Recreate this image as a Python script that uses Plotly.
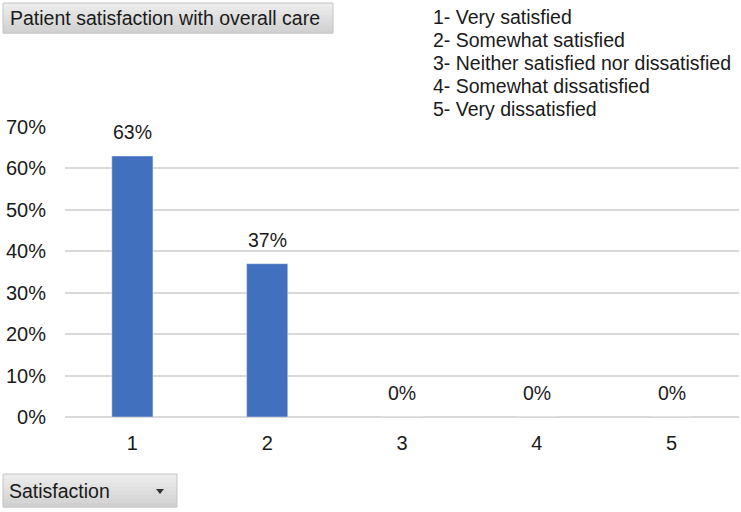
import plotly.graph_objects as go

categories = ["1", "2", "3", "4", "5"]
values = [0.63, 0.37, 0.0, 0.0, 0.0]
value_labels = ["63%", "37%", "0%", "0%", "0%"]
y_ticks = [0, 0.1, 0.2, 0.3, 0.4, 0.5, 0.6, 0.7]
y_tick_labels = ["0%", "10%", "20%", "30%", "40%", "50%", "60%", "70%"]
legend_lines = ["1- Very satisfied", "2- Somewhat satisfied",
                "3- Neither satisfied nor dissatisfied",
                "4- Somewhat dissatisfied", "5- Very dissatisfied"]
chart_title = "Patient satisfaction with overall care"
axis_button = "Satisfaction"

W, H = 741, 512
L, R, T, B = 65, 2, 127, 95
PW, PH = W - L - R, H - T - B

def px(x):
    return (x - L) / PW

def py(y):
    return (H - B - y) / PH

FONT = "Liberation Sans, Arial, sans-serif"
TXT = 19.5
TICK = 20

fig = go.Figure()
fig.add_trace(go.Bar(x=categories, y=values, marker_color="#4170BE",
                     width=0.305, hoverinfo="skip"))

annotations = []
for i, (v, t) in enumerate(zip(values, value_labels)):
    annotations.append(dict(x=i, y=v, xref="x", yref="y", text=t, showarrow=False,
                            yshift=24, font=dict(size=TXT, color="#1a1a1a")))
for i, line in enumerate(legend_lines):
    annotations.append(dict(x=px(431), y=py(17 + i * 23), xref="paper", yref="paper",
                            text=line, showarrow=False, xanchor="left", yanchor="middle",
                            font=dict(size=TXT, color="#1a1a1a")))
annotations.append(dict(x=px(8), y=py(18), xref="paper", yref="paper", text=chart_title,
                        showarrow=False, xanchor="left", yanchor="middle",
                        font=dict(size=TXT, color="#1a1a1a")))
annotations.append(dict(x=px(7), y=py(491), xref="paper", yref="paper", text=axis_button,
                        showarrow=False, xanchor="left", yanchor="middle",
                        font=dict(size=TXT, color="#1a1a1a")))

shapes = []
def gray_box(x0, y0, x1, y1):
    n = 8
    h = (y1 - y0) / n
    for k in range(n):
        g = int(236 - k * 30 / n)
        shapes.append(dict(type="rect", xref="paper", yref="paper",
                           x0=px(x0), x1=px(x1), y0=py(y0 + k * h), y1=py(y0 + (k + 1) * h + 0.5),
                           fillcolor=f"rgb({g},{g},{g})", line=dict(width=0), layer="below"))
    shapes.append(dict(type="rect", xref="paper", yref="paper",
                       x0=px(x0), x1=px(x1), y0=py(y0), y1=py(y1),
                       fillcolor="rgba(0,0,0,0)", line=dict(width=1, color="#c4c4c4")))

gray_box(3, 3, 333, 33)
gray_box(3, 474, 177, 507)
shapes.append(dict(type="path", xref="paper", yref="paper",
                   path=f"M {px(156)},{py(489)} L {px(164)},{py(489)} L {px(160)},{py(494)} Z",
                   fillcolor="#333333", line=dict(width=0)))

fig.update_layout(
    width=W, height=H,
    margin=dict(l=L, r=R, t=T, b=B),
    paper_bgcolor="white", plot_bgcolor="white",
    showlegend=False,
    font=dict(family=FONT, size=TXT, color="#1a1a1a"),
    xaxis=dict(type="category", showgrid=False, showline=False, ticks="",
               tickfont=dict(size=TICK), ticklabelstandoff=12),
    yaxis=dict(range=[0, 0.7], tickvals=y_ticks, ticktext=y_tick_labels,
               showgrid=True, gridcolor="#d9d9d9", gridwidth=1.5, zeroline=True,
               zerolinecolor="#d9d9d9", zerolinewidth=1.5, showline=False, ticks="",
               tickfont=dict(size=TICK), ticklabelstandoff=18),
    annotations=annotations,
    shapes=shapes,
)

fig.write_html("out.html", config={"displayModeBar": False},
               post_script="document.body.style.margin='0';document.body.style.padding='0';")
